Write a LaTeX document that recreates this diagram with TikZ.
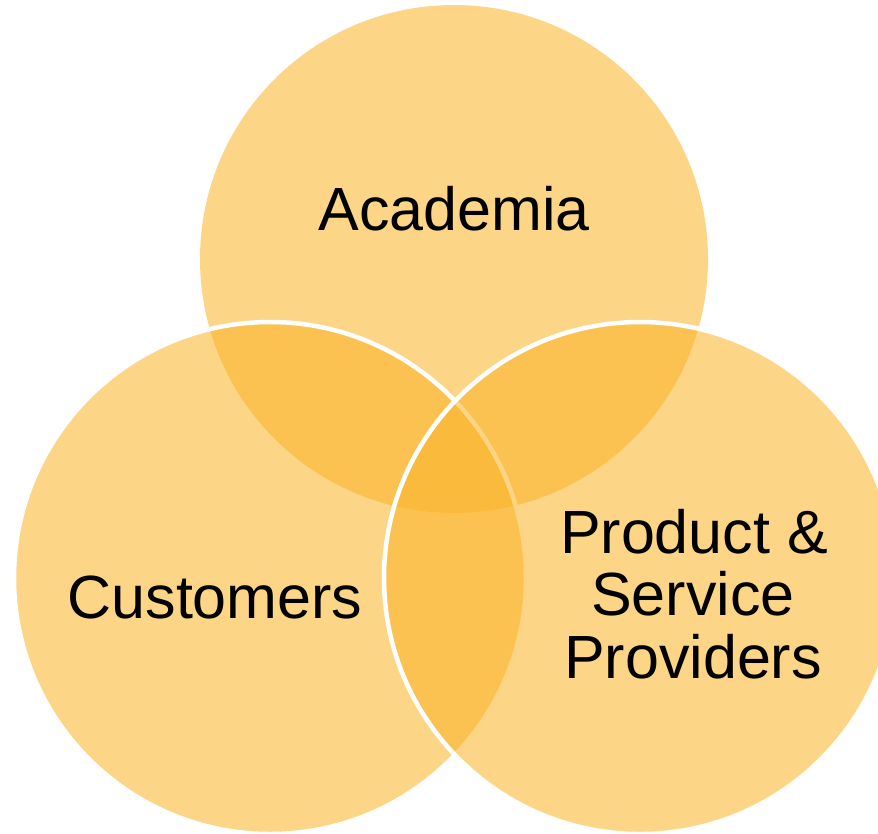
\documentclass[tikz,border=0pt]{standalone}
\usepackage{fontspec}
\setmainfont{Liberation Sans}
\definecolor{venn}{RGB}{250,180,40}
\begin{document}
\begin{tikzpicture}[x=1pt,y=-1pt,
  vennc/.style={circle, inner sep=0pt, outer sep=0pt, minimum size=508pt,
    fill=venn, fill opacity=0.56},
  rim/.style={draw=white, line width=4.5pt, minimum size=512pt},
  lbl/.style={anchor=base, inner sep=0pt, font=\fontsize{61}{62}\selectfont, text=black}]
\useasboundingbox (0,0) rectangle (878,833);
\clip (0,0) rectangle (878,833);
\node[vennc] (acad) at (454,259) {};
\node[vennc, rim] (cust) at (270,578) {};
\node[vennc, rim] (prov) at (640,578) {};
\node[lbl] (tacad) at (454,230) {Academia};
\node[lbl] (tcust) at (215,618) {Customers};
\node[lbl] (tprov1) at (694,553) {Product \&};
\node[lbl] (tprov2) at (693,615) {Service};
\node[lbl] (tprov3) at (693,678) {Providers};
\end{tikzpicture}
\end{document}
